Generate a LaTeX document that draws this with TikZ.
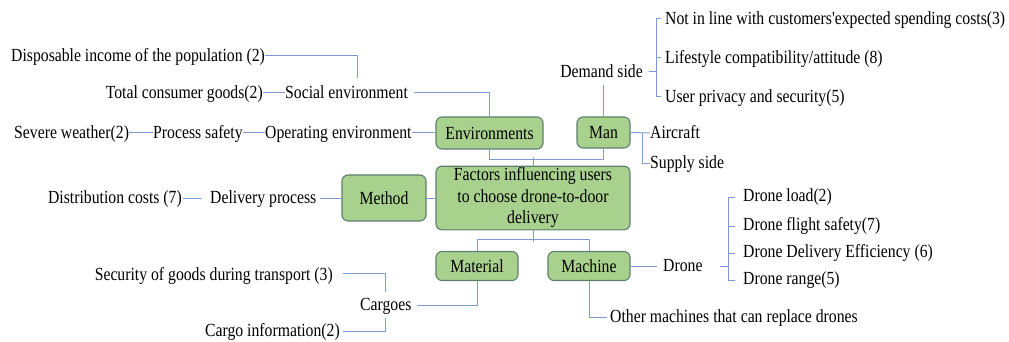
\documentclass[tikz,border=0pt]{standalone}
\usepackage{fontspec}
\setmainfont{Liberation Serif}[FakeStretch=0.85, Ligatures=TeXOff]
\definecolor{lnc}{RGB}{125,155,210}
\definecolor{boxfill}{RGB}{169,209,142}
\definecolor{boxdraw}{RGB}{95,125,110}
\tikzset{
  box/.style={draw=boxdraw, fill=boxfill, line width=1.1pt, rounded corners=6pt, inner sep=0pt, align=center},
  lbl/.style={inner sep=0pt, text height=14pt, text depth=3.5pt},
  conn/.style={draw=lnc, line width=1pt}
}
\begin{document}
\begin{tikzpicture}[x=1pt,y=-1pt,font=\fontsize{18.5}{21}\selectfont]
\useasboundingbox (0,0) rectangle (1009,342);
% boxes
\node[box, minimum width=107pt, minimum height=32pt] (env) at (489.5,133) {\raisebox{-1.5pt}{Environments}};
\node[box, minimum width=53pt, minimum height=31pt] (man) at (603.5,132.5) {\raisebox{-1.5pt}{Man}};
\node[box, minimum width=194pt, minimum height=60pt] (ctr) at (533,198) {\raisebox{-3pt}{\begin{tabular}{@{}c@{}}Factors influencing users\\[0.3pt]to choose drone-to-door\\[0.3pt]delivery\end{tabular}}};
\node[box, minimum width=84pt, minimum height=46pt] (method) at (384,198) {\raisebox{-1.5pt}{Method}};
\node[box, minimum width=82pt, minimum height=29pt] (material) at (477,266) {\raisebox{-1.5pt}{Material}};
\node[box, minimum width=82pt, minimum height=29pt] (machine) at (589,266) {\raisebox{-1.5pt}{Machine}};
% environment branch
\node[lbl, anchor=west] (disp) at (11,56) {Disposable income of the population (2)};
\node[lbl, anchor=west] (social) at (285,93) {Social environment};
\node[lbl, anchor=east] (total) at (263,93) {Total consumer goods(2)};
\node[lbl, anchor=west] (oper) at (265,133) {Operating environment};
\node[lbl, anchor=west] (proc) at (153,133) {Process safety};
\node[lbl, anchor=west] (severe) at (14,133) {Severe weather(2)};
\coordinate (dispend) at (357,78);
\draw[conn] (disp.east) -| (dispend);
\draw[conn] (total.east) -- (social.west);
\draw[conn] ([xshift=6pt]social.east) -| (env.north);
\draw[conn] (oper.east) -- (env.west);
\draw[conn] (proc.east) -- (oper.west);
\draw[conn] (severe.east) -- (proc.west);
% top joins
\draw[conn] (env.south) -- ++(0,10) -| (man.south);
\draw[conn] (ctr.north) -- ++(0,-9);
% man branch
\node[lbl, anchor=east] (demand) at (643,72) {Demand side};
\draw[conn] (man.north) -- ++(0,-31);
\coordinate (dbt) at (656,19);
\coordinate (dbm) at (656,58);
\coordinate (dbb) at (656,97);
\node[lbl, anchor=west] (d1) at (665,19) {Not in line with customers'expected spending costs(3)};
\node[lbl, anchor=west] (d2) at (665,58) {Lifestyle compatibility/attitude (8)};
\node[lbl, anchor=west] (d3) at (665,97) {User privacy and security(5)};
\draw[conn] ([xshift=6pt]demand.east) -- (demand.east -| dbt);
\draw[conn] ([xshift=5pt]dbt) -- (dbt) -- (dbb) -- ([xshift=5pt]dbb);
\draw[conn] (dbm) -- ([xshift=5pt]dbm);
\node[lbl, anchor=west] (aircraft) at (650,133) {Aircraft};
\node[lbl, anchor=west] (supply) at (650,163) {Supply side};
\draw[conn] (man.east) -- (aircraft.west);
\coordinate (mj) at (642,133);
\draw[conn] (mj) |- (supply.west);
% method branch
\node[lbl, anchor=west] (deliv) at (210,198) {Delivery process};
\node[lbl, anchor=east] (dist) at (182,198) {Distribution costs (7)};
\draw[conn] (ctr.west) -- (method.east);
\draw[conn] (method.west) -- ([xshift=3pt]deliv.east);
\draw[conn] ([xshift=1pt]dist.east) -- ([xshift=-8pt]deliv.west);
% bottom joins
\draw[conn] (ctr.south) -- ++(0,12);
\draw[conn] (material.north) -- ++(0,-11.5) -| (machine.north);
% material branch
\node[lbl, anchor=west] (cargo) at (360,305) {Cargoes};
\draw[conn] (material.south) |- ([xshift=5pt]cargo.east);
\node[lbl, anchor=east] (sec) at (333,275) {Security of goods during transport (3)};
\node[lbl, anchor=east] (cinfo) at (340,331) {Cargo information(2)};
\coordinate (cbt) at (385,292);
\coordinate (cbb) at (385,318);
\draw[conn] ([xshift=10pt]sec.east |- 0,273) -| (cbt);
\draw[conn] (cbb) |- ([xshift=3pt]cinfo.east |- 0,331);
% machine branch
\node[lbl, anchor=west] (drone) at (663,266) {Drone};
\draw[conn] (machine.east) -- ([xshift=-6pt]drone.west);
\coordinate (bbt) at (728,197);
\coordinate (bbb) at (728,280);
\node[lbl, anchor=west] (e1) at (743,196) {Drone load(2)};
\node[lbl, anchor=west] (e2) at (743,225) {Drone flight safety(7)};
\node[lbl, anchor=west] (e3) at (743,252) {Drone Delivery Efficiency (6)};
\node[lbl, anchor=west] (e4) at (743,279) {Drone range(5)};
\draw[conn] ([xshift=17pt]drone.east) -- (drone.east -| bbt);
\draw[conn] ([xshift=7pt]bbt) -- (bbt) -- (bbb) -- ([xshift=7pt]bbb);
\draw[conn] (bbt |- 0,226) -- ++(7,0);
\draw[conn] (bbt |- 0,253) -- ++(7,0);
\node[lbl, anchor=west] (other) at (610,317) {Other machines that can replace drones};
\draw[conn] (machine.south) |- ([xshift=-3pt]other.west);
\end{tikzpicture}
\end{document}
